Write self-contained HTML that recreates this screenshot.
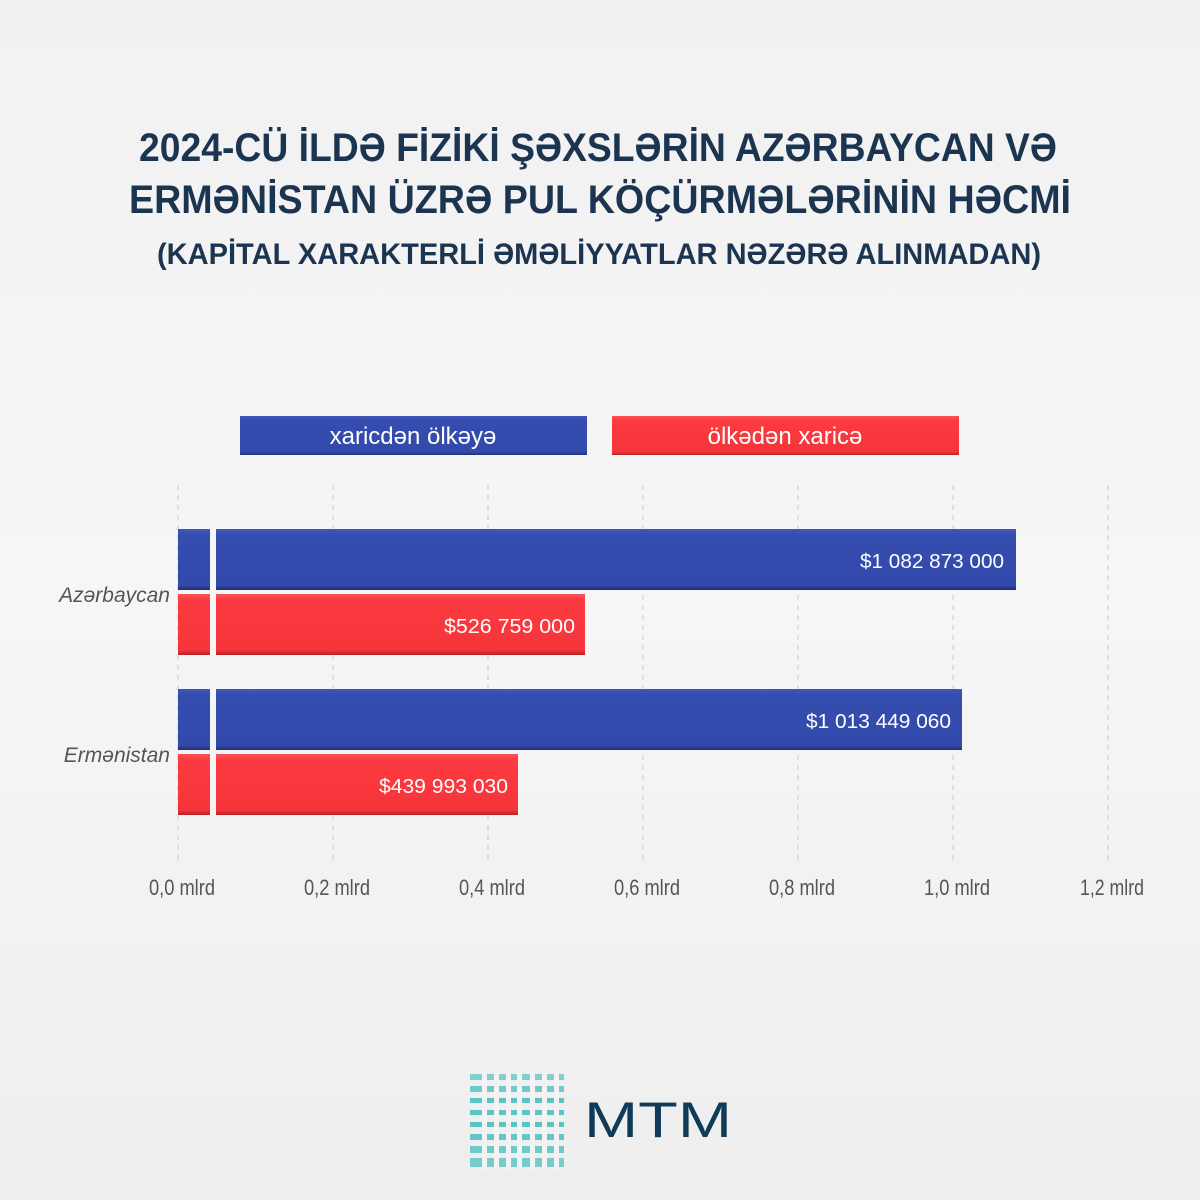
<!DOCTYPE html>
<html><head><meta charset="utf-8"><style>
html,body{margin:0;padding:0;background:#f3f3f3}
svg{display:block}
text{font-family:"Liberation Sans","DejaVu Sans",sans-serif}
</style></head><body>
<svg width="1200" height="1200" viewBox="0 0 1200 1200" xmlns="http://www.w3.org/2000/svg">
<defs>
<linearGradient id="bg" x1="0" y1="0" x2="0" y2="1"><stop offset="0" stop-color="#f1f1f1"/><stop offset="0.5" stop-color="#f6f6f6"/><stop offset="1" stop-color="#eeeeee"/></linearGradient>
<linearGradient id="bl" x1="0" y1="0" x2="0" y2="1"><stop offset="0" stop-color="#4257b8"/><stop offset="0.1" stop-color="#364db0"/><stop offset="0.92" stop-color="#324aab"/><stop offset="1" stop-color="#1f2f7a"/></linearGradient>
<linearGradient id="rd" x1="0" y1="0" x2="0" y2="1"><stop offset="0" stop-color="#ff5256"/><stop offset="0.1" stop-color="#fb3b40"/><stop offset="0.92" stop-color="#f5353a"/><stop offset="1" stop-color="#b82226"/></linearGradient>
</defs>
<rect width="1200" height="1200" fill="url(#bg)"/>
<g fill="#1b3550" font-weight="bold" text-anchor="middle">
<text x="598" y="161" font-size="40" textLength="918" lengthAdjust="spacingAndGlyphs">2024-CÜ İLDƏ FİZİKİ ŞƏXSLƏRİN AZƏRBAYCAN VƏ</text>
<text x="600" y="213" font-size="40" textLength="942" lengthAdjust="spacingAndGlyphs">ERMƏNİSTAN ÜZRƏ PUL KÖÇÜRMƏLƏRİNİN HƏCMİ</text>
<text x="599" y="264" font-size="30" textLength="884" lengthAdjust="spacingAndGlyphs">(KAPİTAL XARAKTERLİ ƏMƏLİYYATLAR NƏZƏRƏ ALINMADAN)</text>
</g>
<rect x="240" y="416" width="347" height="39" fill="url(#bl)"/>
<rect x="612" y="416" width="347" height="39" fill="url(#rd)"/>
<text x="413" y="444" font-size="24" fill="#fff" text-anchor="middle">xaricdən ölkəyə</text>
<text x="785" y="444" font-size="24" fill="#fff" text-anchor="middle">ölkədən xaricə</text>
<g stroke="#c8c8c8" stroke-width="1" stroke-dasharray="5,5">
<line x1="178" y1="485" x2="178" y2="860"/><line x1="333" y1="485" x2="333" y2="860"/><line x1="488" y1="485" x2="488" y2="860"/><line x1="643" y1="485" x2="643" y2="860"/><line x1="798" y1="485" x2="798" y2="860"/><line x1="953" y1="485" x2="953" y2="860"/><line x1="1108" y1="485" x2="1108" y2="860"/>
</g>
<g>
<rect x="178" y="529" width="32" height="61" fill="url(#bl)"/><rect x="216" y="529" width="800" height="61" fill="url(#bl)"/>
<rect x="178" y="594" width="32" height="61" fill="url(#rd)"/><rect x="216" y="594" width="369" height="61" fill="url(#rd)"/>
<rect x="178" y="689" width="32" height="61" fill="url(#bl)"/><rect x="216" y="689" width="746" height="61" fill="url(#bl)"/>
<rect x="178" y="754" width="32" height="61" fill="url(#rd)"/><rect x="216" y="754" width="302" height="61" fill="url(#rd)"/>
</g>
<g fill="#fff" font-size="20" text-anchor="end" font-family="'DejaVu Sans',sans-serif">
<text x="1004" y="568" textLength="144" lengthAdjust="spacingAndGlyphs">$1 082 873 000</text>
<text x="575" y="633" textLength="131" lengthAdjust="spacingAndGlyphs">$526 759 000</text>
<text x="951" y="728" textLength="145" lengthAdjust="spacingAndGlyphs">$1 013 449 060</text>
<text x="508" y="793" textLength="129" lengthAdjust="spacingAndGlyphs">$439 993 030</text>
</g>
<g fill="#555" font-size="21" font-style="italic" text-anchor="end">
<text x="170" y="602">Azərbaycan</text>
<text x="170" y="762">Ermənistan</text>
</g>
<g fill="#555" font-size="22" text-anchor="middle">
<text x="182" y="895" textLength="66" lengthAdjust="spacingAndGlyphs">0,0 mlrd</text>
<text x="337" y="895" textLength="66" lengthAdjust="spacingAndGlyphs">0,2 mlrd</text>
<text x="492" y="895" textLength="66" lengthAdjust="spacingAndGlyphs">0,4 mlrd</text>
<text x="647" y="895" textLength="66" lengthAdjust="spacingAndGlyphs">0,6 mlrd</text>
<text x="802" y="895" textLength="66" lengthAdjust="spacingAndGlyphs">0,8 mlrd</text>
<text x="957" y="895" textLength="66" lengthAdjust="spacingAndGlyphs">1,0 mlrd</text>
<text x="1112" y="895" textLength="64" lengthAdjust="spacingAndGlyphs">1,2 mlrd</text>
</g>
<g fill="#2ab5b5">
<rect x="470" y="1074" width="94" height="6" opacity="0.55"/>
<rect x="470" y="1086" width="94" height="6" opacity="0.65"/>
<rect x="470" y="1098" width="94" height="5" opacity="0.75"/>
<rect x="470" y="1110" width="94" height="5" opacity="0.75"/>
<rect x="470" y="1122" width="94" height="5" opacity="0.75"/>
<rect x="470" y="1134" width="94" height="6" opacity="0.7"/>
<rect x="470" y="1146" width="94" height="7" opacity="0.65"/>
<rect x="470" y="1158" width="94" height="9" opacity="0.6"/>
</g>
<g fill="#f3f3f3">
<rect x="482" y="1070" width="5" height="100"/><rect x="494" y="1070" width="5" height="100"/><rect x="506" y="1070" width="5" height="100"/><rect x="517" y="1070" width="5" height="100"/><rect x="530" y="1070" width="5" height="100"/><rect x="542" y="1070" width="5" height="100"/><rect x="554" y="1070" width="5" height="100"/>
</g>
<text x="584" y="1137" font-size="50" fill="#0f3a58" textLength="148" lengthAdjust="spacingAndGlyphs">MTM</text>
</svg>
</body></html>
